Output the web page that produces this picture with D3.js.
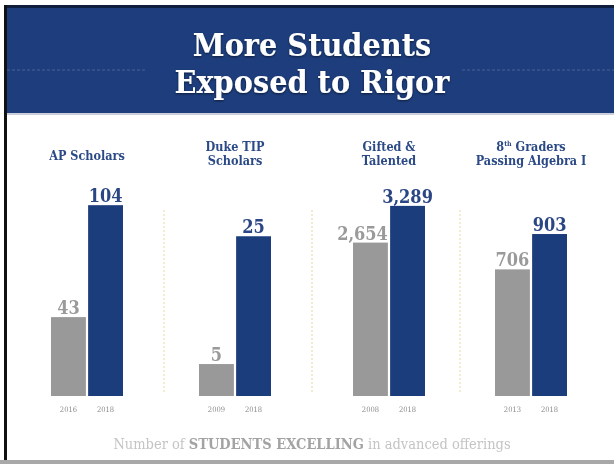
<!DOCTYPE html>
<html><head><meta charset="utf-8">
<script src="https://cdn.jsdelivr.net/npm/d3@7"></script>
<style>html,body{margin:0;padding:0;background:#fff;}svg{display:block;}</style>
</head><body>
<script>
// ---- data ----
const categories = ["AP Scholars", "Duke TIP Scholars", "Gifted & Talented", "8th Graders Passing Algebra I"];
const titleLines = [["AP Scholars"], ["Duke TIP", "Scholars"], ["Gifted &", "Talented"], ["8th Graders", "Passing Algebra I"]];
const beforeValues = [43, 5, 2654, 706];
const afterValues = [104, 25, 3289, 903];
const beforeYears = ["2016", "2009", "2008", "2013"];
const afterYears = ["2018", "2018", "2018", "2018"];
const axisMax = [109, 31.3, 3460, 1115]; // each panel uses its own scale
const chartTitle = ["More Students", "Exposed to Rigor"];

// ---- drawing ----
const W = 614, H = 464;
const svg = d3.select("body").append("svg").attr("width", W).attr("height", H);
const slab = "'DejaVu Serif Condensed','DejaVu Serif',serif";
const BLUE = "#1d3d7c", GRAY = "#999999";

const defs = svg.append("defs");
const f = defs.append("filter").attr("id", "ts").attr("x", "-10%").attr("y", "-20%").attr("width", "120%").attr("height", "140%");
f.append("feDropShadow").attr("dx", 0).attr("dy", 1).attr("stdDeviation", 1.2).attr("flood-color", "#000").attr("flood-opacity", 0.55);
const blur = defs.append("filter").attr("id", "bl");
blur.append("feGaussianBlur").attr("stdDeviation", 0.35);

svg.append("rect").attr("width", W).attr("height", H).attr("fill", "#fff");

// header band
svg.append("rect").attr("x", 4).attr("y", 5).attr("width", W - 4).attr("height", 109).attr("fill", "#0e1e3c");
svg.append("rect").attr("x", 7).attr("y", 8).attr("width", W - 7).attr("height", 105).attr("fill", BLUE);
svg.append("rect").attr("x", 7).attr("y", 113).attr("width", W - 7).attr("height", 2).attr("fill", "#c9d0dc");
// faint dashed rule through header
[[7, 146], [462, W]].forEach(([a, b]) => {
  svg.append("line").attr("x1", a).attr("x2", b).attr("y1", 70).attr("y2", 70)
    .attr("stroke", "#5f739d").attr("stroke-width", 1).attr("stroke-dasharray", "3,2").attr("opacity", 0.7);
});
// left frame line and bottom line
svg.append("rect").attr("x", 4).attr("y", 5).attr("width", 3).attr("height", H - 5).attr("fill", "#111");
svg.append("rect").attr("x", 0).attr("y", 460).attr("width", W).attr("height", 4).attr("fill", "#a8a8a8");

const title = svg.append("text").attr("text-anchor", "middle").attr("fill", "#fff")
  .attr("font-family", slab).attr("font-weight", "bold").attr("font-size", 32).attr("filter", "url(#ts)");
chartTitle.forEach((t, i) => title.append("tspan").attr("x", 312).attr("y", 56 + i * 37).text(t));

// panels
const x = d3.scaleBand().domain(categories).range([13, 605]).paddingInner(0).paddingOuter(0);
const yearScale = d3.scaleBand().domain(["before", "after"]).range([-36, 36]).paddingInner(0.06);
const base = 396, topY = 196;

const g = svg.append("g").attr("filter", "url(#bl)");
categories.forEach((c, i) => {
  const y = d3.scaleLinear().domain([0, axisMax[i]]).range([base, topY]);
  const cx = x(c) + x.bandwidth() / 2 + (i === 2 ? 6 : 0);
  const pg = g.append("g").attr("transform", `translate(${cx},0)`);
  const rows = [
    {k: "before", v: beforeValues[i], yr: beforeYears[i], fill: GRAY, lab: "#9a9a9a"},
    {k: "after", v: afterValues[i], yr: afterYears[i], fill: BLUE, lab: "#2a4684"}
  ];
  rows.forEach(r => {
    const bx = yearScale(r.k), bw = yearScale.bandwidth();
    pg.append("rect").attr("x", bx).attr("width", bw)
      .attr("y", y(r.v)).attr("height", base - y(r.v)).attr("fill", r.fill);
    const lt = pg.append("text").attr("x", bx + bw / 2).attr("y", y(r.v) - 3)
      .attr("text-anchor", "middle").attr("font-family", slab).attr("font-weight", "bold")
      .attr("font-size", 18).attr("fill", r.lab).text(d3.format(",")(r.v));
    // keep a wide "before" label from running into the neighbouring bar
    const tw = lt.node().getComputedTextLength();
    if (r.k === "before" && tw > bw) lt.attr("text-anchor", "end").attr("x", bx + bw);
    pg.append("text").attr("x", bx + bw / 2).attr("y", 412)
      .attr("text-anchor", "middle").attr("font-family", slab).attr("font-size", 7.5)
      .attr("fill", "#8a8a8a").text(r.yr);
  });
  // panel title
  const lines = titleLines[i];
  const ty = lines.length === 1 ? 160 : 151;
  const tt = pg.append("text").attr("text-anchor", "middle").attr("font-family", slab)
    .attr("font-weight", "bold").attr("font-size", 12.5).attr("fill", "#2b4a86");
  lines.forEach((l, j) => {
    const ts = tt.append("tspan").attr("x", 0).attr("y", ty + j * 14);
    if (l.startsWith("8th")) {
      ts.text("8");
      ts.append("tspan").attr("font-size", 7).attr("dy", -5).text("th");
      ts.append("tspan").attr("dy", 5).text(" Graders");
    } else ts.text(l);
  });
  // separator
  if (i < categories.length - 1) {
    const sx = x(categories[i + 1]);
    svg.append("line").attr("x1", sx + 3).attr("x2", sx + 3).attr("y1", 210).attr("y2", 394)
      .attr("stroke", "#e6d79a").attr("stroke-width", 1).attr("stroke-dasharray", "2,2");
  }
});

// footer
const foot = svg.append("text").attr("x", 312).attr("y", 449).attr("text-anchor", "middle")
  .attr("font-family", slab).attr("font-size", 14.5).attr("fill", "#c4c4c4").attr("filter", "url(#bl)");
foot.append("tspan").text("Number of ");
foot.append("tspan").attr("font-weight", "bold").attr("fill", "#a3a3a3").text("STUDENTS EXCELLING");
foot.append("tspan").text(" in advanced offerings");
</script>
</body></html>
